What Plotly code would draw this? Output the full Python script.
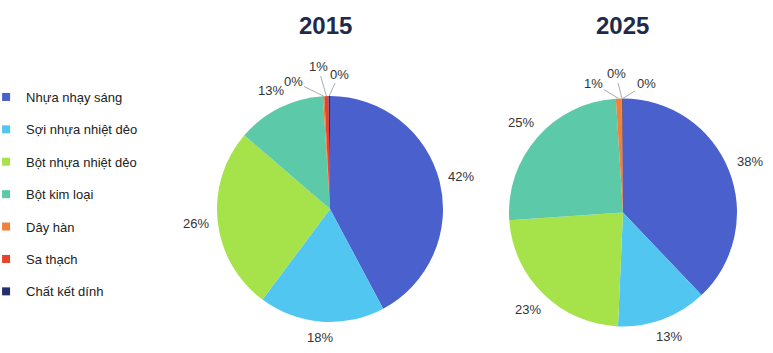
import math
import plotly.graph_objects as go

W, H = 773, 353

categories = ["Nhựa nhạy sáng", "Sợi nhựa nhiệt dẻo", "Bột nhựa nhiệt dẻo",
              "Bột kim loại", "Dây hàn", "Sa thạch", "Chất kết dính"]
values_2015 = [42.2, 18.0, 26.1, 12.7, 0.2, 0.6, 0.2]
values_2025 = [37.9, 12.8, 23.2, 25.1, 0.8, 0.1, 0.1]
years = ["2015", "2025"]
colors = ["#4a60cc", "#50c6f0", "#a6e24a", "#5ccaa8", "#f0813a", "#e8432c", "#232f6c"]

# pie placement in pixels (center x, center y, radius)
pies = [(330, 209, 113), (623, 212.5, 114)]
title_x = [325, 622]
# text centres (px) for the three thin slices at the top, which use leader lines
small_label_pos = [
    [(293, 81), (318, 67), (339, 74)],
    [(593, 83), (616, 74), (646, 84)],
]

FONT = "Arial, Liberation Sans, sans-serif"


def px(x, y):
    return x / W, 1 - y / H


def dom(cx, cy, r):
    return dict(x=[(cx - r) / W, (cx + r) / W], y=[1 - (cy + r) / H, 1 - (cy - r) / H])


fig = go.Figure()
for k, (vals, (cx, cy, r)) in enumerate(zip([values_2015, values_2025], pies)):
    fig.add_trace(go.Pie(
        labels=categories, values=vals, sort=False, direction="clockwise",
        rotation=0, domain=dom(cx, cy, r),
        marker=dict(colors=colors, line=dict(width=0)),
        textinfo="none", showlegend=False, hoverinfo="label+percent",
    ))
    total = sum(vals)
    cum = 0.0
    for i, v in enumerate(vals):
        mid = (cum + v / 2) / total * 2 * math.pi
        cum += v
        s, c = math.sin(mid), math.cos(mid)
        txt = f"{round(v / total * 100):.0f}%"
        if i < 4:
            d = r + 8 + 13 * abs(s) + 6.5 * abs(c)
            x, y = px(cx + d * s, cy - d * c)
            fig.add_annotation(text=txt, x=x, y=y, xref="paper", yref="paper",
                               showarrow=False, xanchor="center", yanchor="middle",
                               font=dict(family=FONT, size=13, color="#333333"))
        else:
            tx, ty = small_label_pos[k][i - 4]
            ex, ey = cx + r * s, cy - r * c
            x, y = px(ex, ey)
            fig.add_annotation(text=txt, x=x, y=y, xref="paper", yref="paper",
                               showarrow=True, arrowhead=0, arrowwidth=1,
                               arrowcolor="#a8adb5", ax=tx - ex, ay=ty - ey,
                               axref="pixel", ayref="pixel",
                               font=dict(family=FONT, size=13, color="#333333"))

for i, (cat, col) in enumerate(zip(categories, colors)):
    fig.add_trace(go.Scatter(
        x=[None], y=[None], mode="markers", name=cat, legendgroup=f"g{i}",
        marker=dict(symbol="square", size=8, color=col), showlegend=True,
    ))

for yr, tx in zip(years, title_x):
    x, y = px(tx, 26)
    fig.add_annotation(text=f"<b>{yr}</b>", x=x, y=y, xref="paper", yref="paper",
                       showarrow=False, xanchor="center", yanchor="middle",
                       font=dict(family=FONT, size=24, color="#1f2a4a"))

fig.update_layout(
    width=W, height=H, margin=dict(l=0, r=0, t=0, b=0, autoexpand=False),
    paper_bgcolor="white", plot_bgcolor="white",
    xaxis=dict(visible=False), yaxis=dict(visible=False),
    legend=dict(x=-0.018, xanchor="left", y=1 - 82 / H, yanchor="top",
                traceorder="grouped", tracegroupgap=12.5,
                font=dict(family=FONT, size=13, color="#222222"),
                bgcolor="rgba(0,0,0,0)"),
    font=dict(family=FONT),
)

fig.write_html("out.html")
